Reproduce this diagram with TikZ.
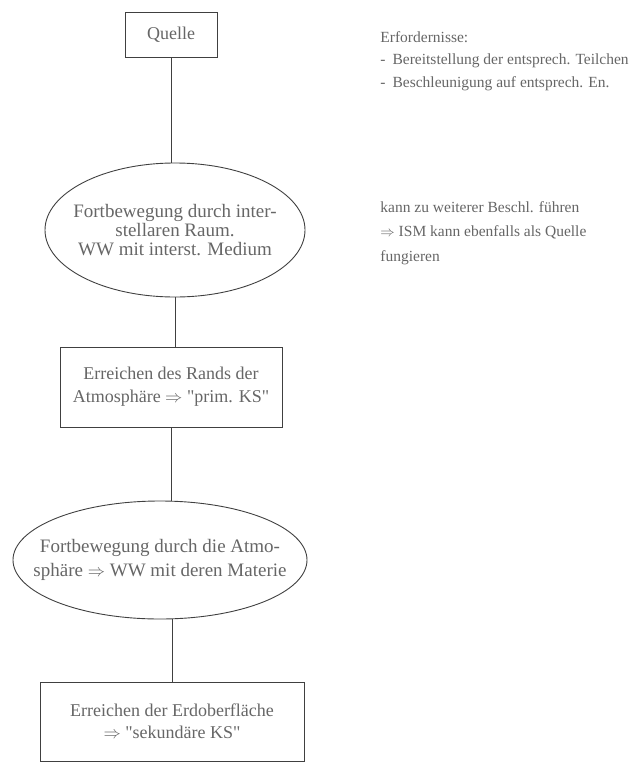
\documentclass[tikz,border=0pt]{standalone}
\usepackage{fontspec}
\setmainfont{Liberation Serif}
\usetikzlibrary{positioning,shapes.geometric}
\tikzset{
  flow/.style={x=1pt,y=-1pt,
    line width=0.9pt,
    draw=black!75,
    text=black!60,
    font=\fontsize{18}{23}\selectfont},
  stage/.style={rectangle,draw,align=center,inner sep=0pt},
  trip/.style={ellipse,draw,align=center,inner xsep=-40pt,inner ysep=-20pt},
  note/.style={anchor=north west,align=left,inner sep=0pt,
    font=\fontsize{15.5}{22.5}\selectfont},
}
\newcommand{\qq}{\textquotedbl}

\begin{document}
\begin{tikzpicture}[flow]
  \useasboundingbox (0,0) rectangle (637,763);
  % Stationen
  \node[stage,minimum width=92pt,minimum height=45pt] (quelle) at (171,34.5) {Quelle};
  \node[trip,minimum width=260pt,minimum height=134pt,font=\fontsize{19}{19}\selectfont] (ism) at (175,230)
    {Fortbewegung durch inter-\\stellaren Raum.\\WW mit interst. Medium};
  \node[stage,minimum width=222pt,minimum height=80pt] (rand) at (171,387)
    {Erreichen des Rands der\\Atmosphäre $\Rightarrow$ \qq prim. KS\qq};
  \node[trip,minimum width=294pt,minimum height=118pt,font=\fontsize{19}{24}\selectfont] (atmo) at (160,560)
    {Fortbewegung durch die Atmo-\\sphäre $\Rightarrow$ WW mit deren Materie};
  \node[stage,minimum width=264pt,minimum height=79pt,font=\fontsize{18}{22}\selectfont] (erde) at (172,721.5)
    {Erreichen der Erdoberfläche\\$\Rightarrow$ \qq sekundäre KS\qq};
  % Anmerkungen
  \node[note] (erf) at (380,31)
    {Erfordernisse:\\-\hspace{7pt}Bereitstellung der entsprech. Teilchen\\-\hspace{7pt}Beschleunigung auf entsprech. En.};
  \node[note,font=\fontsize{15.5}{24.5}\selectfont] (beschl) at (380,201)
    {kann zu weiterer Beschl. führen\\$\Rightarrow$ ISM kann ebenfalls als Quelle\\fungieren};
  % Verbindungen
  \draw (quelle.south) -- (quelle.south |- ism.north);
  \draw (ism.south) -- (ism.south |- rand.north);
  \draw (rand.south) -- (rand.south |- atmo.north);
  \draw (erde.north |- atmo.south) -- (erde.north);
\end{tikzpicture}
\end{document}
